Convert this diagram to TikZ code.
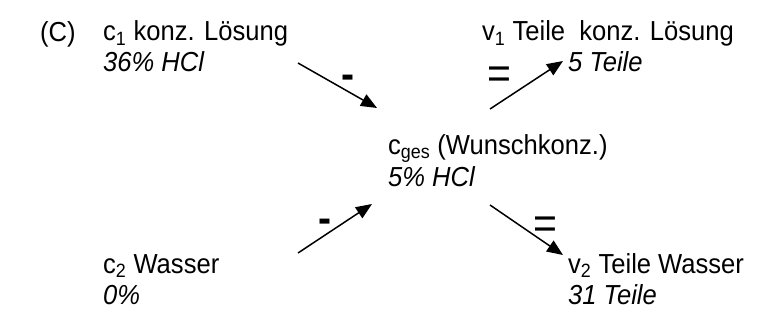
\documentclass[tikz,border=0pt]{standalone}
\usepackage{fontspec}
\setmainfont[FakeStretch=0.93]{Liberation Sans}
\usetikzlibrary{arrows.meta}
\tikzset{
  lbl/.style={anchor=base west, inner sep=0pt, font=\fontsize{27.5}{31}\selectfont},
  val/.style={lbl, font=\fontsize{27.5}{31}\selectfont\itshape},
  flow/.style={line width=1.5pt, -{Triangle[length=16pt,width=13pt]}},
  minus/.style={anchor=base, inner sep=0pt, font=\fontsize{42}{42}\selectfont\bfseries},
  equal/.style={anchor=base, inner sep=0pt, font=\fontsize{44}{44}\selectfont},
}
\begin{document}
\begin{tikzpicture}[x=1pt,y=-1pt]
\useasboundingbox (0,0) rectangle (763,334);
% labels: name, and the amount in italics below it
\node[lbl] (tag) at (40,42) {(C)};
\node[lbl] (c1) at (103,41) {c\textsubscript{1} konz. Lösung};
\node[val] (c1v) at (103,72) {36\% HCl};
\node[lbl] (v1) at (482,41) {v\textsubscript{1} Teile\ \ konz. Lösung};
\node[val] (v1v) at (568,72) {5 Teile};
\node[lbl] (cg) at (388,155) {c\textsubscript{ges} (Wunschkonz.)};
\node[val] (cgv) at (388,186) {5\% HCl};
\node[lbl] (c2) at (103,273) {c\textsubscript{2} Wasser};
\node[val] (c2v) at (103,304) {0\%};
\node[lbl] (v2) at (568,273) {v\textsubscript{2} Teile Wasser};
\node[val] (v2v) at (568,304) {31 Teile};
% arrow ends
\coordinate (a1s) at (298,63);  \coordinate (a1e) at (377,108);
\coordinate (a2s) at (490,109); \coordinate (a2e) at (563,61);
\coordinate (a3s) at (490,205); \coordinate (a3e) at (563,255);
\coordinate (a4s) at (298,253); \coordinate (a4e) at (372,204);
\draw[flow] (a1s) -- (a1e);
\draw[flow] (a2s) -- (a2e);
\draw[flow] (a3s) -- (a3e);
\draw[flow] (a4s) -- (a4e);
% operation signs
\node[minus] (m1) at (348,89) {-};
\node[equal] (e1) at (499,89) {=};
\node[equal] (e2) at (545,238) {=};
\node[minus] (m2) at (325,232) {-};
\end{tikzpicture}
\end{document}
